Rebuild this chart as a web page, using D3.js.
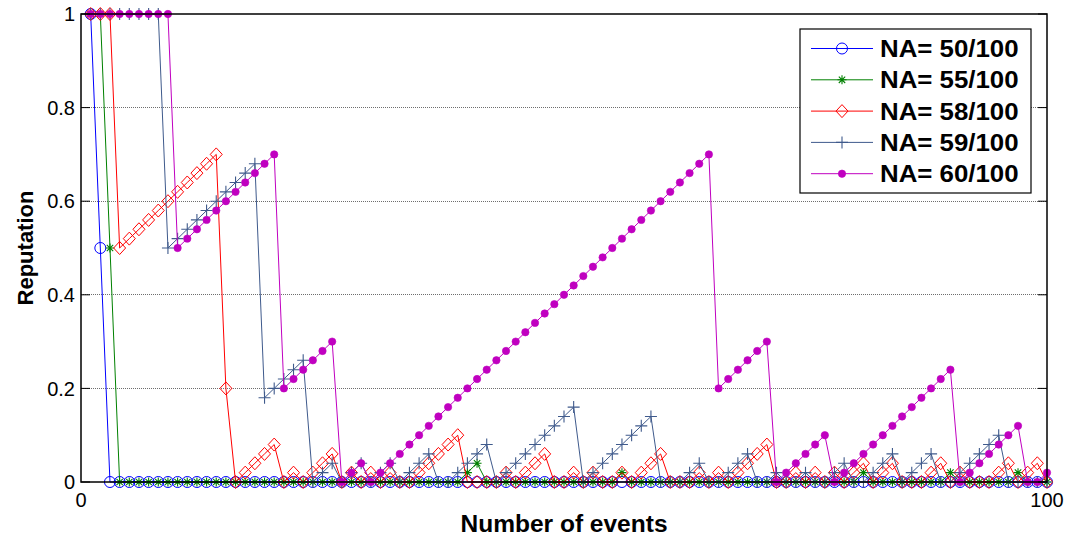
<!DOCTYPE html>
<html>
<head>
<meta charset="utf-8">
<script src="https://cdn.jsdelivr.net/npm/d3@7"></script>
<style>
  html, body { margin: 0; padding: 0; background: #fff; }
  svg { display: block; font-family: "Liberation Sans", Arial, sans-serif; }
</style>
</head>
<body>
<svg id="chart" width="1068" height="542"></svg>
<script>
// Event index on the x axis
const events = d3.range(1, 101);

// Reputation per event for each NA setting
const rep50 = [1, 0.5,
  0,0,0,0,0,0,0,0,0,0, 0,0,0,0,0,0,0,0,0,0, 0,0,0,0,0,0,0,0,0,0, 0,0,0,0,0,0,0,0,0,0,
  0,0,0,0,0,0,0,0,0,0, 0,0,0,0,0,0,0,0,0,0, 0,0,0,0,0,0,0,0,0,0, 0,0,0,0,0,0,0,0,0,0,
  0,0,0,0,0,0,0,0,0,0, 0,0,0,0,0,0,0,0];

const rep55 = [
  1, 1, 0.5, 0, 0, 0, 0, 0, 0, 0,
  0, 0, 0, 0, 0, 0, 0, 0, 0, 0,
  0, 0, 0, 0, 0, 0, 0, 0, 0, 0,
  0, 0, 0, 0, 0, 0, 0, 0, 0, 0.02,
  0.04, 0, 0, 0, 0, 0, 0, 0, 0, 0,
  0, 0, 0, 0, 0, 0.02, 0, 0, 0, 0,
  0, 0, 0, 0, 0, 0, 0, 0, 0, 0,
  0, 0, 0, 0, 0, 0, 0, 0, 0, 0,
  0.02, 0, 0, 0, 0, 0, 0, 0, 0, 0.02,
  0, 0, 0, 0, 0, 0, 0.02, 0, 0, 0];

const rep58 = [
  1, 1, 1, 0.5, 0.52, 0.54, 0.56, 0.58, 0.6, 0.62,
  0.64, 0.66, 0.68, 0.7, 0.2, 0, 0.02, 0.04, 0.06, 0.08,
  0, 0.02, 0, 0.02, 0.04, 0.06, 0, 0.02, 0, 0.02,
  0, 0.02, 0, 0, 0.02, 0.04, 0.06, 0.08, 0.1, 0,
  0, 0, 0, 0.02, 0, 0.02, 0.04, 0.06, 0, 0,
  0.02, 0, 0.02, 0, 0, 0.02, 0, 0.02, 0.04, 0.06,
  0, 0, 0, 0.02, 0, 0.02, 0, 0.02, 0.04, 0.06,
  0.08, 0, 0, 0.02, 0, 0.02, 0, 0.02, 0, 0.02,
  0.04, 0, 0.02, 0.04, 0, 0, 0, 0.02, 0.04, 0,
  0.02, 0, 0, 0, 0.02, 0.04, 0, 0.02, 0.04, 0];

const rep59 = [
  1, 1, 1, 1, 1, 1, 1, 1, 0.5, 0.52,
  0.54, 0.56, 0.58, 0.6, 0.62, 0.64, 0.66, 0.68, 0.18, 0.2,
  0.22, 0.24, 0.26, 0, 0.02, 0.04, 0, 0.02, 0.04, 0,
  0.02, 0.04, 0, 0.02, 0.04, 0.06, 0, 0, 0.02, 0.04,
  0.06, 0.08, 0, 0.02, 0.04, 0.06, 0.08, 0.1, 0.12, 0.14,
  0.16, 0, 0.02, 0.04, 0.06, 0.08, 0.1, 0.12, 0.14, 0,
  0, 0, 0.02, 0.04, 0, 0, 0.02, 0.04, 0.06, 0,
  0, 0.02, 0, 0, 0.02, 0, 0, 0.02, 0.04, 0,
  0, 0.02, 0.04, 0.06, 0, 0.02, 0.04, 0.06, 0, 0,
  0.02, 0.04, 0.06, 0.08, 0.1, 0, 0, 0, 0, 0];

const rep60 = [
  1, 1, 1, 1, 1, 1, 1, 1, 1, 0.5,
  0.52, 0.54, 0.56, 0.58, 0.6, 0.62, 0.64, 0.66, 0.68, 0.7,
  0.2, 0.22, 0.24, 0.26, 0.28, 0.3, 0, 0.02, 0.04, 0,
  0.02, 0.04, 0.06, 0.08, 0.1, 0.12, 0.14, 0.16, 0.18, 0.2,
  0.22, 0.24, 0.26, 0.28, 0.3, 0.32, 0.34, 0.36, 0.38, 0.4,
  0.42, 0.44, 0.46, 0.48, 0.5, 0.52, 0.54, 0.56, 0.58, 0.6,
  0.62, 0.64, 0.66, 0.68, 0.7, 0.2, 0.22, 0.24, 0.26, 0.28,
  0.3, 0, 0.02, 0.04, 0.06, 0.08, 0.1, 0, 0.02, 0.04,
  0.06, 0.08, 0.1, 0.12, 0.14, 0.16, 0.18, 0.2, 0.22, 0.24,
  0, 0.02, 0.04, 0.06, 0.08, 0.1, 0.12, 0, 0, 0.02];

const seriesLabels = ["NA= 50/100", "NA= 55/100", "NA= 58/100", "NA= 59/100", "NA= 60/100"];
const seriesColors = ["#0000ff", "#008000", "#ff0000", "#3f5a8c", "#c000c0"];
const seriesMarkers = ["circle", "star", "diamond", "plus", "dot"];
const yTicks = [0, 0.2, 0.4, 0.6, 0.8, 1];
const xTicks = [0, 100];

const series = [rep50, rep55, rep58, rep59, rep60].map((vals, i) => ({
  label: seriesLabels[i], color: seriesColors[i], marker: seriesMarkers[i],
  points: vals.map((v, j) => ({ x: events[j], y: v }))
}));

const svg = d3.select("#chart");
const M = { left: 81, right: 1047, top: 14, bottom: 482 };
const x = d3.scaleLinear().domain([0, 100]).range([M.left, M.right]);
const y = d3.scaleLinear().domain([0, 1]).range([M.bottom, M.top]);

// Horizontal dotted grid
svg.append("g").selectAll("line")
  .data(yTicks.filter(t => t > 0 && t < 1))
  .join("line")
  .attr("x1", M.left).attr("x2", M.right)
  .attr("y1", d => y(d)).attr("y2", d => y(d))
  .attr("stroke", "#6e6e6e").attr("stroke-width", 1)
  .attr("stroke-dasharray", "1,1")
  .attr("shape-rendering", "crispEdges");

// Marker symbols
function drawMarker(g, type, color) {
  switch (type) {
    case "circle":
      g.append("circle").attr("r", 5.5).attr("fill", "none").attr("stroke", color).attr("stroke-width", 1);
      break;
    case "star":
      g.append("path").attr("d", "M-4.5,0H4.5M0,-4.5V4.5M-3.2,-3.2L3.2,3.2M-3.2,3.2L3.2,-3.2")
        .attr("stroke", color).attr("stroke-width", 1.1).attr("fill", "none");
      break;
    case "diamond":
      g.append("path").attr("d", "M0,-6.5L6,0L0,6.5L-6,0Z")
        .attr("fill", "none").attr("stroke", color).attr("stroke-width", 1);
      break;
    case "plus":
      g.append("path").attr("d", "M-6,0H6M0,-6V6")
        .attr("stroke", color).attr("stroke-width", 1.1).attr("fill", "none");
      break;
    case "dot":
      g.append("circle").attr("r", 3.7).attr("fill", color).attr("stroke", color).attr("stroke-width", 0.6);
      break;
  }
}

const line = d3.line().x(d => x(d.x)).y(d => y(d.y));

const plot = svg.append("g");
series.forEach(s => {
  const g = plot.append("g");
  g.append("path").datum(s.points)
    .attr("d", line).attr("fill", "none")
    .attr("stroke", s.color).attr("stroke-width", 1);
  g.selectAll("g.m").data(s.points).join("g")
    .attr("class", "m")
    .attr("transform", d => `translate(${x(d.x)},${y(d.y)})`)
    .each(function () { drawMarker(d3.select(this), s.marker, s.color); });
});

// Axes box and inward ticks
const axisG = svg.append("g").attr("stroke", "#000").attr("fill", "none");
axisG.append("rect")
  .attr("x", M.left).attr("y", M.top)
  .attr("width", M.right - M.left).attr("height", M.bottom - M.top)
  .attr("stroke-width", 1.5);
axisG.selectAll("line.yt").data(yTicks).join("line")
  .attr("class", "yt")
  .attr("x1", M.left).attr("x2", M.left + 9)
  .attr("y1", d => y(d)).attr("y2", d => y(d)).attr("stroke-width", 1);
axisG.selectAll("line.yt2").data(yTicks).join("line")
  .attr("class", "yt2")
  .attr("x1", M.right - 9).attr("x2", M.right)
  .attr("y1", d => y(d)).attr("y2", d => y(d)).attr("stroke-width", 1);

// Tick labels
svg.append("g").selectAll("text").data(yTicks).join("text")
  .attr("x", M.left - 6).attr("y", d => y(d)).attr("dy", "0.36em")
  .attr("text-anchor", "end").attr("font-size", 20).attr("fill", "#000")
  .text(d => d3.format("~g")(d));
svg.append("g").selectAll("text").data(xTicks).join("text")
  .attr("x", d => x(d)).attr("y", M.bottom + 25)
  .attr("text-anchor", "middle").attr("font-size", 20).attr("fill", "#000")
  .text(d => d);

// Axis titles (slightly wide lettering)
svg.append("text")
  .attr("transform", `translate(${(M.left + M.right) / 2},532) scale(1.066,1)`)
  .attr("text-anchor", "middle").attr("font-size", 23).attr("font-weight", "bold")
  .text("Number of events");
svg.append("text")
  .attr("transform", `translate(33,${(M.top + M.bottom) / 2}) rotate(-90)`)
  .attr("text-anchor", "middle").attr("font-size", 22).attr("font-weight", "bold")
  .text("Reputation");

// Legend
const L = { x: 800, y: 29, w: 231, h: 164, row: 31.3 };
const leg = svg.append("g");
leg.append("rect").attr("x", L.x).attr("y", L.y).attr("width", L.w).attr("height", L.h)
  .attr("fill", "#fff").attr("stroke", "#000").attr("stroke-width", 1.2);
series.forEach((s, i) => {
  const cy = L.y + 19.5 + i * L.row;
  leg.append("line").attr("x1", L.x + 11).attr("x2", L.x + 73)
    .attr("y1", cy).attr("y2", cy).attr("stroke", s.color).attr("stroke-width", 1);
  const mg = leg.append("g").attr("transform", `translate(${L.x + 42},${cy})`);
  drawMarker(mg, s.marker, s.color);
  leg.append("text")
    .attr("transform", `translate(${L.x + 80},${cy}) scale(1.1,1)`)
    .attr("dy", "0.36em")
    .attr("font-size", 23.5).attr("font-weight", "bold").attr("fill", "#000")
    .text(s.label);
});
</script>
</body>
</html>
